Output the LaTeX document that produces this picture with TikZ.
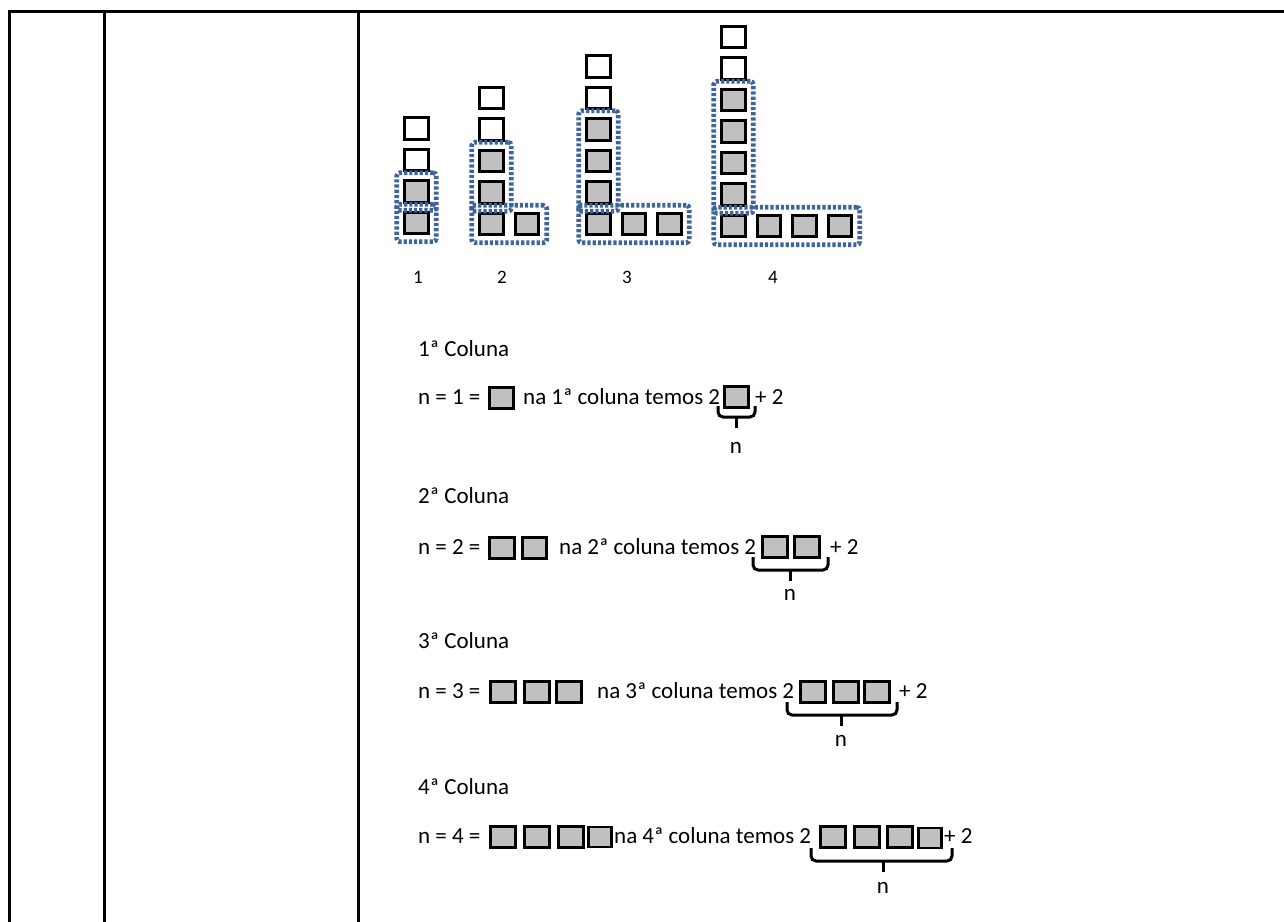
\documentclass[tikz,border=0pt]{standalone}
\usepackage{fontspec}
\setmainfont{Carlito}
\usetikzlibrary{fit}
\definecolor{dotblue}{RGB}{62,100,155}
\definecolor{sqgray}{RGB}{192,192,192}
\begin{document}
\begin{tikzpicture}[x=1pt,y=-1pt,
  tline/.style={line width=3pt, line cap=rect},
  fsq/.style={draw=black, line width=3pt, minimum width=23.5pt, minimum height=21.5pt, inner sep=0pt, outer sep=0pt},
  gsq/.style={fsq, fill=sqgray},
  wsq/.style={fsq, fill=white},
  isq/.style={draw=black, line width=3pt, fill=sqgray, minimum width=24.5pt, minimum height=21.5pt, inner sep=0pt},
  isqs/.style={isq, line width=2.2pt, minimum width=23pt, minimum height=20pt},
  dbox/.style={draw=dotblue, line width=4.6pt, dash pattern=on 3.2pt off 2pt, inner sep=8pt, rounded corners=3pt},
  txt/.style={font=\fontsize{23}{27}\selectfont, inner sep=0pt, anchor=base west},
  ntxt/.style={font=\fontsize{23}{27}\selectfont, inner sep=0pt, anchor=base},
  lbl/.style={font=\fontsize{19}{22}\selectfont, inner sep=0pt, anchor=base},
  brc/.style={draw=black, line width=3pt, rounded corners=5pt},
  stem/.style={draw=black, line width=3pt},
]
\useasboundingbox (0,0) rectangle (1284,921);
% table
\draw[tline] (9,921) -- (9,11) -- (1284,11);
\draw[tline] (104,11) -- (104,921);
\draw[tline] (358,11) -- (358,921);

% figure 1
\foreach \i/\st in {0/gsq,1/gsq,2/wsq,3/wsq}
  \node[\st] (fa\i) at (416.5,223-31.5*\i) {};
\node[dbox, fit=(fa1)] (fav) {};
\node[dbox, fit=(fa0)] (fah) {};
% figure 2
\foreach \i/\st in {0/gsq,1/gsq,2/gsq,3/wsq,4/wsq}
  \node[\st] (fb\i) at (491.5,224-31.5*\i) {};
\node[gsq] (fbr1) at (527,224) {};
\node[dbox, fit=(fb1)(fb2)] (fbv) {};
\node[dbox, fit=(fb0)(fbr1)] (fbh) {};
% figure 3
\foreach \i/\st in {0/gsq,1/gsq,2/gsq,3/gsq,4/wsq,5/wsq}
  \node[\st] (fc\i) at (598.5,224-31.5*\i) {};
\node[gsq] (fcr1) at (634,224) {};
\node[gsq] (fcr2) at (669.5,224) {};
\node[dbox, fit=(fc1)(fc3)] (fcv) {};
\node[dbox, fit=(fc0)(fcr2)] (fch) {};
% figure 4
\foreach \i/\st in {0/gsq,1/gsq,2/gsq,3/gsq,4/gsq,5/wsq,6/wsq}
  \node[\st] (fd\i) at (733.5,226-31.5*\i) {};
\node[gsq] (fdr1) at (769,226) {};
\node[gsq] (fdr2) at (804.5,226) {};
\node[gsq] (fdr3) at (840,226) {};
\node[dbox, fit=(fd1)(fd4)] (fdv) {};
\node[dbox, fit=(fd0)(fdr3)] (fdh) {};
% labels
\node[lbl] (l1) at (418,283) {1};
\node[lbl] (l2) at (502,283) {2};
\node[lbl] (l3) at (627,283) {3};
\node[lbl] (l4) at (773,283) {4};

% row 1
\node[txt] (t1) at (418,356) {1ª Coluna};
\node[txt] (e1a) at (418,404) {n = 1 =};
\node[isq] (s1a) at (501.5,398) {};
\node[txt] (e1b) at (523,404) {na 1ª coluna temos 2};
\node[isq] (s1b) at (736.5,397) {};
\node[txt] (e1c) at (755,404) {+ 2};
\draw[brc] (718,406) -- (718,417) -- (755,417) -- (755,406);
\draw[stem] (736,417) -- (736,428);
\node[ntxt] (n1) at (736,453) {n};

% row 2
\node[txt] (t2) at (418,503) {2ª Coluna};
\node[txt] (e2a) at (418,554) {n = 2 =};
\node[isq] (s2a) at (502,548) {};
\node[isq] (s2b) at (534.5,548) {};
\node[txt] (e2b) at (559,554) {na 2ª coluna temos 2};
\node[isq] (s2c) at (775,547) {};
\node[isq] (s2d) at (807,547) {};
\node[txt] (e2c) at (830,554) {+ 2};
\draw[brc] (753,557) -- (753,570) -- (828,570) -- (828,557);
\draw[stem] (790,570) -- (790,581);
\node[ntxt] (n2) at (790,600) {n};

% row 3
\node[txt] (t3) at (418,648) {3ª Coluna};
\node[txt] (e3a) at (418,698) {n = 3 =};
\node[isq] (s3a) at (503,692) {};
\node[isq] (s3b) at (537,692) {};
\node[isq] (s3c) at (569,692) {};
\node[txt] (e3b) at (597,698) {na 3ª coluna temos 2};
\node[isq] (s3d) at (813,692) {};
\node[isq] (s3e) at (846,692) {};
\node[isq] (s3f) at (877,692) {};
\node[txt] (e3c) at (899,698) {+ 2};
\draw[brc] (787,702) -- (787,715) -- (897,715) -- (897,702);
\draw[stem] (841,715) -- (841,726);
\node[ntxt] (n3) at (841,746) {n};

% row 4
\node[txt] (t4) at (418,794) {4ª Coluna};
\node[txt] (e4a) at (418,843) {n = 4 =};
\node[isq] (s4a) at (503,837) {};
\node[isq] (s4b) at (537,837) {};
\node[isq] (s4c) at (571,837) {};
\node[isqs] (s4d) at (600,837) {};
\node[txt] (e4b) at (614,843) {na 4ª coluna temos 2};
\node[isq] (s4e) at (833,837) {};
\node[isq] (s4f) at (867,837) {};
\node[isq] (s4g) at (900,837) {};
\node[isqs] (s4h) at (930,838) {};
\node[txt] (e4c) at (944,843) {+ 2};
\draw[brc] (811,848) -- (811,861) -- (952,861) -- (952,848);
\draw[stem] (883,861) -- (883,872);
\node[ntxt] (n4) at (883,893) {n};
\end{tikzpicture}
\end{document}
